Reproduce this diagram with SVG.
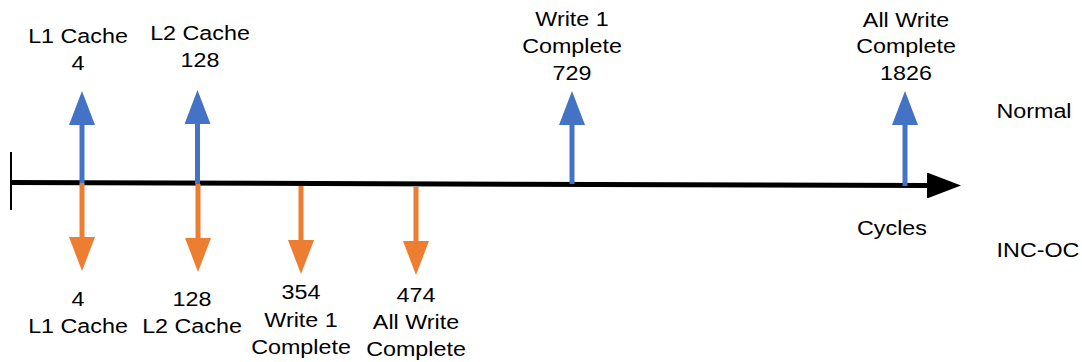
<svg xmlns="http://www.w3.org/2000/svg" width="1082" height="362" viewBox="0 0 1082 362">
<style>
text{font-family:"Liberation Sans",Arial,sans-serif;font-size:21px;fill:#000;text-anchor:middle}
.blue{stroke:#4472C4;stroke-width:5;fill:none}
.orange{stroke:#ED7D31;stroke-width:5;fill:none}
</style>
<defs>
<marker id="hb" markerUnits="userSpaceOnUse" markerWidth="34" markerHeight="26" refX="0" refY="13" orient="auto" viewBox="0 0 34 26"><path d="M0,0 L34,13 L0,26 z" fill="#4472C4"/></marker>
<marker id="ho" markerUnits="userSpaceOnUse" markerWidth="34" markerHeight="26" refX="0" refY="13" orient="auto" viewBox="0 0 34 26"><path d="M0,0 L34,13 L0,26 z" fill="#ED7D31"/></marker>
<marker id="hk" markerUnits="userSpaceOnUse" markerWidth="34" markerHeight="26" refX="0" refY="13" orient="auto" viewBox="0 0 34 26"><path d="M0,0 L34,13 L0,26 z" fill="#000"/></marker>
</defs>
<g id="connectors">
<line x1="11" y1="152" x2="11" y2="210" stroke="#000" stroke-width="2"/>
<line x1="11" y1="182.5" x2="927" y2="185.5" stroke="#000" stroke-width="5" marker-end="url(#hk)"/>
<line class="blue" x1="82" y1="183" x2="82" y2="125" marker-end="url(#hb)"/>
<line class="blue" x1="197.5" y1="184" x2="197.5" y2="124" marker-end="url(#hb)"/>
<line class="blue" x1="572" y1="184" x2="572" y2="125" marker-end="url(#hb)"/>
<line class="blue" x1="905" y1="186" x2="905" y2="125" marker-end="url(#hb)"/>
<line class="orange" x1="82" y1="183" x2="82" y2="237" marker-end="url(#ho)"/>
<line class="orange" x1="198" y1="184" x2="198" y2="238" marker-end="url(#ho)"/>
<line class="orange" x1="301" y1="186" x2="301" y2="240" marker-end="url(#ho)"/>
<line class="orange" x1="416" y1="187" x2="416" y2="241" marker-end="url(#ho)"/>
</g>
<g id="n-l1-normal"><text transform="translate(78,0) scale(1.11,1)"><tspan x="0" y="43">L1 Cache</tspan><tspan x="0" y="70">4</tspan></text></g>
<g id="n-l2-normal"><text transform="translate(200,0) scale(1.11,1)"><tspan x="0" y="40">L2 Cache</tspan><tspan x="0" y="67">128</tspan></text></g>
<g id="n-w1-normal"><text transform="translate(572,0) scale(1.11,1)"><tspan x="0" y="26">Write 1</tspan><tspan x="0" y="53">Complete</tspan><tspan x="0" y="80">729</tspan></text></g>
<g id="n-all-normal"><text transform="translate(906,0) scale(1.11,1)"><tspan x="0" y="27">All Write</tspan><tspan x="0" y="53">Complete</tspan><tspan x="0" y="80">1826</tspan></text></g>
<g id="n-normal"><text transform="translate(1034,0) scale(1.11,1)"><tspan x="0" y="118">Normal</tspan></text></g>
<g id="n-cycles"><text transform="translate(892,0) scale(1.11,1)"><tspan x="0" y="235">Cycles</tspan></text></g>
<g id="n-incoc"><text transform="translate(1038,0) scale(1.11,1)"><tspan x="0" y="257">INC-OC</tspan></text></g>
<g id="n-l1-inc"><text transform="translate(78,0) scale(1.11,1)"><tspan x="0" y="306">4</tspan><tspan x="0" y="333">L1 Cache</tspan></text></g>
<g id="n-l2-inc"><text transform="translate(192,0) scale(1.11,1)"><tspan x="0" y="306">128</tspan><tspan x="0" y="333">L2 Cache</tspan></text></g>
<g id="n-w1-inc"><text transform="translate(301,0) scale(1.11,1)"><tspan x="0" y="299">354</tspan><tspan x="0" y="327">Write 1</tspan><tspan x="0" y="354">Complete</tspan></text></g>
<g id="n-all-inc"><text transform="translate(416,0) scale(1.11,1)"><tspan x="0" y="302">474</tspan><tspan x="0" y="329">All Write</tspan><tspan x="0" y="356">Complete</tspan></text></g>
</svg>
